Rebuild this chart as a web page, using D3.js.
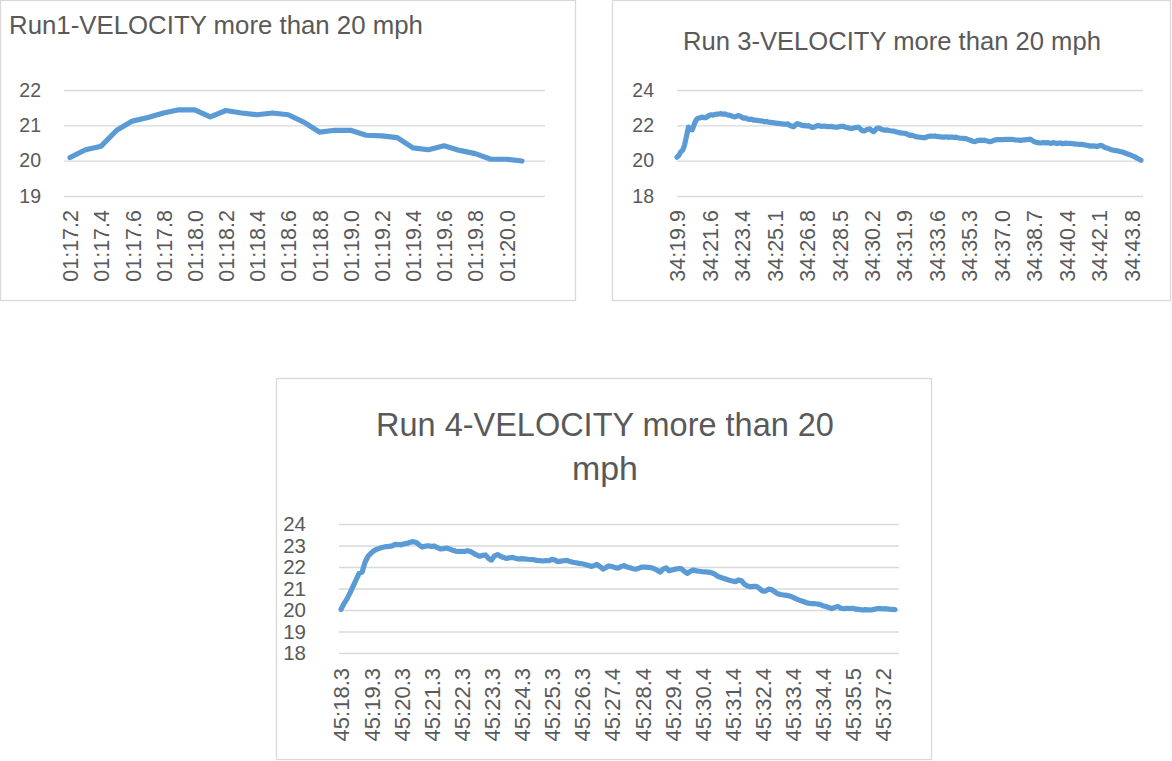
<!DOCTYPE html>
<html>
<head>
<meta charset="utf-8">
<script src="https://cdn.jsdelivr.net/npm/d3@7"></script>
<style>
  html, body { margin: 0; padding: 0; background: #ffffff; }
  svg { display: block; }
  text { font-family: "Liberation Sans", Arial, sans-serif; fill: #595959; }
</style>
</head>
<body>
<svg id="board" width="1172" height="761"></svg>
<script>
// ---- Run 1: one sample per 0.1 s ----
const run1Times = ["01:17.2","01:17.3","01:17.4","01:17.5","01:17.6","01:17.7","01:17.8","01:17.9",
  "01:18.0","01:18.1","01:18.2","01:18.3","01:18.4","01:18.5","01:18.6","01:18.7","01:18.8","01:18.9",
  "01:19.0","01:19.1","01:19.2","01:19.3","01:19.4","01:19.5","01:19.6","01:19.7","01:19.8","01:19.9",
  "01:20.0","01:20.1"];
const run1Speed = [20.09,20.31,20.41,20.86,21.12,21.22,21.35,21.44,21.44,21.24,
  21.42,21.35,21.30,21.35,21.30,21.09,20.81,20.86,20.86,20.72,
  20.70,20.65,20.36,20.31,20.42,20.29,20.20,20.04,20.04,19.99];
const run1YTicks = [19, 20, 21, 22];

// ---- Run 3 ----
const run3TickLabels = ["34:19.9","34:21.6","34:23.4","34:25.1","34:26.8","34:28.5","34:30.2","34:31.9",
  "34:33.6","34:35.3","34:37.0","34:38.7","34:40.4","34:42.1","34:43.8"];
const run3LabelEvery = 17;
const run3Speed = [20.2,20.3,20.5,20.6,20.9,21.4,21.9,21.8,21.75,22.05,
  22.3,22.4,22.42,22.47,22.44,22.43,22.5,22.57,22.6,22.58,
  22.62,22.63,22.64,22.66,22.63,22.65,22.6,22.58,22.55,22.52,
  22.48,22.5,22.55,22.53,22.45,22.4,22.42,22.36,22.33,22.35,
  22.3,22.3,22.28,22.26,22.25,22.24,22.2,22.22,22.18,22.17,
  22.15,22.14,22.12,22.11,22.1,22.08,22.07,22.06,22.08,22.0,
  21.95,21.92,22.02,22.1,22.06,22.02,21.98,22.0,21.96,21.98,
  21.92,21.88,21.9,21.96,22.0,21.95,21.94,21.96,21.94,21.93,
  21.92,21.94,21.91,21.9,21.9,21.92,21.94,21.95,21.9,21.88,
  21.85,21.82,21.83,21.86,21.88,21.9,21.8,21.7,21.68,21.74,
  21.78,21.8,21.7,21.64,21.75,21.85,21.84,21.78,21.74,21.72,
  21.74,21.71,21.69,21.68,21.66,21.62,21.6,21.57,21.56,21.55,
  21.53,21.48,21.42,21.45,21.4,21.36,21.34,21.33,21.31,21.3,
  21.3,21.35,21.38,21.4,21.38,21.4,21.37,21.36,21.35,21.33,
  21.33,21.35,21.32,21.34,21.33,21.31,21.33,21.3,21.28,21.27,
  21.26,21.25,21.22,21.18,21.14,21.1,21.08,21.12,21.15,21.16,
  21.14,21.16,21.12,21.1,21.08,21.1,21.15,21.18,21.2,21.19,
  21.2,21.19,21.21,21.2,21.2,21.21,21.2,21.18,21.17,21.16,
  21.15,21.17,21.18,21.19,21.2,21.22,21.15,21.08,21.04,21.02,
  21.0,21.01,21.03,21.0,21.02,21.0,20.98,21.02,21.0,20.97,
  20.99,21.0,20.96,20.98,20.99,20.97,20.98,20.96,20.95,20.94,
  20.93,20.92,20.92,20.9,20.88,20.86,20.84,20.82,20.84,20.82,
  20.8,20.84,20.87,20.82,20.75,20.72,20.68,20.64,20.6,20.58,
  20.57,20.55,20.52,20.5,20.46,20.42,20.38,20.34,20.3,20.25,
  20.2,20.14,20.08,20.02];
const run3YTicks = [18, 20, 22, 24];

// ---- Run 4 ----
const run4TickLabels = ["45:18.3","45:19.3","45:20.3","45:21.3","45:22.3","45:23.3","45:24.3","45:25.3",
  "45:26.3","45:27.4","45:28.4","45:29.4","45:30.4","45:31.4","45:32.4","45:33.4","45:34.4","45:35.5","45:37.2"];
const run4LabelEvery = 10;
const run4Speed = [20.03,20.3,20.52,20.8,21.1,21.4,21.7,21.76,22.22,22.5,
  22.65,22.76,22.83,22.88,22.92,22.95,22.96,22.98,23.05,23.04,
  23.03,23.08,23.1,23.15,23.18,23.14,23.02,22.93,22.97,22.99,
  22.95,22.98,22.9,22.84,22.85,22.88,22.84,22.78,22.74,22.72,
  22.73,22.72,22.76,22.72,22.64,22.56,22.5,22.54,22.56,22.4,
  22.32,22.52,22.58,22.5,22.44,22.4,22.43,22.45,22.4,22.37,
  22.39,22.38,22.36,22.35,22.34,22.31,22.3,22.28,22.3,22.29,
  22.35,22.33,22.25,22.27,22.29,22.31,22.26,22.22,22.2,22.17,
  22.15,22.12,22.08,22.03,22.06,22.12,22.02,21.9,21.98,22.05,
  22.02,21.97,21.95,22.02,22.06,22.0,21.96,21.92,21.9,21.95,
  22.0,21.99,21.98,21.97,21.92,21.85,21.76,21.9,21.96,21.82,
  21.86,21.9,21.92,21.92,21.8,21.7,21.8,21.86,21.82,21.8,
  21.78,21.77,21.76,21.73,21.68,21.58,21.52,21.48,21.43,21.38,
  21.35,21.32,21.4,21.36,21.2,21.12,21.08,21.1,21.1,21.0,
  20.88,20.88,20.97,20.95,20.85,20.76,20.72,20.7,20.68,20.65,
  20.6,20.53,20.47,20.42,20.37,20.32,20.3,20.3,20.28,20.26,
  20.2,20.16,20.12,20.06,20.12,20.17,20.08,20.06,20.08,20.07,
  20.08,20.04,20.03,20.0,20.02,20.01,20.0,20.03,20.06,20.07,
  20.05,20.06,20.04,20.03,20.02];
const run4YTicks = [18, 19, 20, 21, 22, 23, 24];

const LINE_COLOR = "#5b9bd5";
const GRID_COLOR = "#d9d9d9";
const svg = d3.select("#board");

// Scale a text's font size so that its rendered length equals the wanted width.
function fitToWidth(sel, width) {
  const len = sel.node().getComputedTextLength();
  const size = parseFloat(sel.style("font-size"));
  sel.style("font-size", (size * width / len) + "px");
}

function drawChart(c) {
  const g = svg.append("g");

  // chart frame
  g.append("rect")
    .attr("x", c.box[0]).attr("y", c.box[1])
    .attr("width", c.box[2] - c.box[0]).attr("height", c.box[3] - c.box[1])
    .attr("fill", "#fff").attr("stroke", GRID_COLOR).attr("stroke-width", 1.3);

  // title
  c.title.forEach(t => {
    const txt = g.append("text")
      .attr("x", t.x).attr("y", t.y)
      .attr("text-anchor", t.anchor)
      .style("font-size", "24px")
      .text(t.text);
    fitToWidth(txt, t.width);
  });

  const y = d3.scaleLinear().domain(c.yDomain).range([c.plot.bottom, c.plot.top]);

  // value axis with full-width gridlines
  const yAxis = g.append("g")
    .attr("transform", `translate(${c.plot.left},0)`)
    .call(d3.axisLeft(y)
      .tickValues(c.yTicks)
      .tickFormat(d3.format("d"))
      .tickSize(-(c.plot.right - c.plot.left))
      .tickPadding(c.yLabelGap));
  yAxis.select(".domain").remove();
  yAxis.selectAll(".tick line").attr("stroke", GRID_COLOR).attr("stroke-width", 1.4);
  yAxis.selectAll(".tick text")
    .attr("fill", "#595959")
    .style("font-family", "'Liberation Sans', Arial, sans-serif")
    .style("font-size", c.yFont + "px");

  // category axis with vertical labels
  const xAxis = g.append("g")
    .attr("transform", `translate(0,${c.plot.bottom})`)
    .call(d3.axisBottom(c.x)
      .tickValues(c.xTickValues)
      .tickFormat(c.xTickFormat)
      .tickSize(0));
  xAxis.select(".domain").remove();
  xAxis.selectAll(".tick text")
    .attr("fill", "#595959")
    .style("font-family", "'Liberation Sans', Arial, sans-serif")
    .style("font-size", c.xFont + "px")
    .attr("transform", "rotate(-90)")
    .attr("text-anchor", "end")
    .attr("x", -c.xLabelGap)
    .attr("y", 0)
    .attr("dy", "0.36em");

  // series line
  const line = d3.line()
    .x((d, i) => c.xOf(i))
    .y(d => y(d));
  g.append("path")
    .datum(c.values)
    .attr("fill", "none")
    .attr("stroke", LINE_COLOR)
    .attr("stroke-width", 5.2)
    .attr("stroke-linejoin", "round")
    .attr("stroke-linecap", "round")
    .attr("d", line);
}

// Run 1
const x1 = d3.scalePoint().domain(run1Times).range([70, 522]);
drawChart({
  box: [0.5, 0.5, 575.5, 300.5],
  title: [{ text: "Run1-VELOCITY more than 20 mph", x: 9, y: 33.5, anchor: "start", width: 414 }],
  plot: { left: 64, right: 545, top: 90, bottom: 196 },
  yDomain: [19, 22], yTicks: run1YTicks, yFont: 19.5, yLabelGap: 23,
  x: x1,
  xOf: i => x1(run1Times[i]),
  xTickValues: run1Times.filter((d, i) => i % 2 === 0),
  xTickFormat: d => d,
  xFont: 21.5, xLabelGap: 14,
  values: run1Speed
});

// Run 3
const x3 = d3.scaleLinear().domain([0, run3Speed.length - 1]).range([677, 1141]);
drawChart({
  box: [612.5, 0.5, 1170.5, 300.5],
  title: [{ text: "Run 3-VELOCITY more than 20 mph", x: 892, y: 49.5, anchor: "middle", width: 418 }],
  plot: { left: 677, right: 1143, top: 90, bottom: 196 },
  yDomain: [18, 24], yTicks: run3YTicks, yFont: 19.5, yLabelGap: 23,
  x: x3,
  xOf: i => x3(i),
  xTickValues: run3TickLabels.map((d, k) => k * run3LabelEvery),
  xTickFormat: v => run3TickLabels[v / run3LabelEvery],
  xFont: 21.5, xLabelGap: 14,
  values: run3Speed
});

// Run 4
const x4 = d3.scaleLinear().domain([0, run4Speed.length - 1]).range([341, 895]);
drawChart({
  box: [276.5, 378.5, 931.5, 759.5],
  title: [
    { text: "Run 4-VELOCITY more than 20", x: 605, y: 435.5, anchor: "middle", width: 458 },
    { text: "mph", x: 605, y: 479.5, anchor: "middle", width: 66 }
  ],
  plot: { left: 339, right: 899, top: 524, bottom: 653 },
  yDomain: [18, 24], yTicks: run4YTicks, yFont: 20.5, yLabelGap: 33,
  x: x4,
  xOf: i => x4(i),
  xTickValues: run4TickLabels.map((d, k) => k * run4LabelEvery),
  xTickFormat: v => run4TickLabels[v / run4LabelEvery],
  xFont: 22, xLabelGap: 15,
  values: run4Speed
});
</script>
</body>
</html>
